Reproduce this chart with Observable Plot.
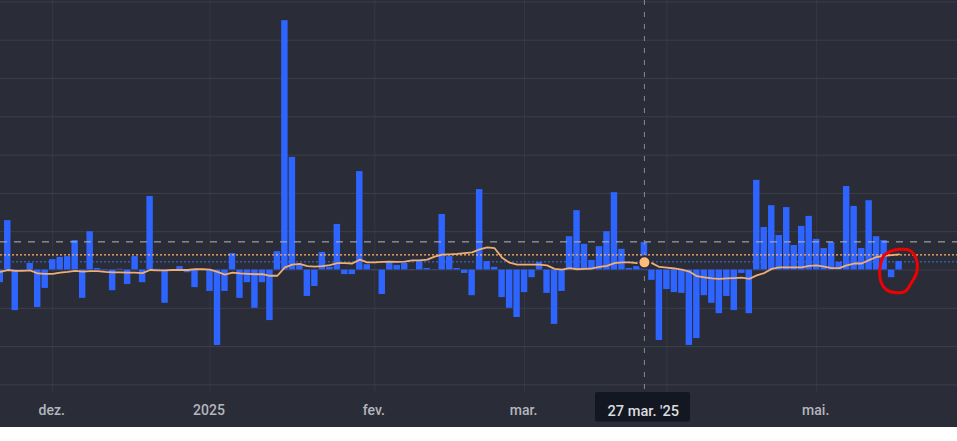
<!DOCTYPE html>
<html>
<head>
<meta charset="utf-8">
<script src="https://cdn.jsdelivr.net/npm/d3@7"></script>
<script src="https://cdn.jsdelivr.net/npm/@observablehq/plot@0.6"></script>
<style>
html,body{margin:0;padding:0;background:#fff}
svg{display:block}
</style>
</head>
<body>
<div id="chart"></div>
<script>
const firstIndex = -7;
const barValues = [
 -0.33,1.29,-1.06,-0.03,0.17,-0.98,-0.48,
 0.27,0.33,0.35,0.77,-0.74,1.0,0.04,-0.02,-0.54,0.02,-0.38,0.35,-0.33,1.92,0.02,-0.87,0.01,0.09,-0.07,-0.46,0.01,
 -0.56,-1.97,-0.56,0.43,-0.74,-0.33,-1.0,-0.33,-1.32,0.48,6.51,2.94,0.12,-0.69,-0.43,0.46,0.07,1.19,-0.12,-0.12,2.57,0.14,
 -0.01,-0.64,0.2,0.12,0.17,0.01,0.22,0.04,0.01,1.45,0.35,0.04,-0.09,-0.67,2.1,0.22,0.07,-0.72,-1.0,-1.24,
 -0.59,-0.2,0.2,-0.61,-1.42,-0.56,0.87,1.55,0.67,0.25,0.61,1.0,2.02,0.54,0.04,0.09,0.72,-0.27,-1.84,
 -0.51,-0.59,-0.61,-1.97,-1.79,-0.67,-0.87,-1.14,-0.69,-1.06,-0.09,-1.14,2.34,1.11,1.68,0.9,1.63,0.64,1.14,1.4,
 0.8,0.56,0.72,0.2,2.18,1.66,0.56,1.81,0.87,0.77,-0.2,0.22
];
const lineValues = [
 -0.05,0,-0.02,-0.02,-0.01,-0.09,-0.10,
 -0.10,-0.07,-0.05,-0.02,-0.04,-0.03,-0.03,-0.05,-0.06,-0.06,-0.07,-0.07,-0.08,0,-0.01,-0.01,0,0,0,0.02,0.02,
 0.01,-0.05,-0.12,-0.07,-0.09,-0.10,-0.11,-0.11,-0.15,-0.15,0.07,0.14,0.16,0.10,0.09,0.10,0.13,0.18,0.18,0.17,0.27,0.20,
 0.20,0.21,0.22,0.21,0.22,0.25,0.25,0.27,0.35,0.40,0.41,0.42,0.44,0.46,0.54,0.59,0.57,0.32,0.19,0.14,
 0.14,0.14,0.14,0.12,0.03,0.01,0.05,0.02,0.03,0.04,0.08,0.11,0.18,0.20,0.20,0.18,0.20,0.18,0.08,
 0.06,0.04,0.01,-0.04,-0.16,-0.19,-0.22,-0.23,-0.22,-0.21,-0.20,-0.23,-0.14,-0.08,0.03,0.07,0.07,0.07,0.07,0.11,
 0.12,0.09,0.05,0.05,0.12,0.17,0.17,0.26,0.34,0.37,0.39,0.41
];
const gridValues = [-3,-2,-1,0,1,2,3,4,5,6,7];
const monthStarts = [0,21,43,63,82,102];
const tickIndex = [0,21,43,63,102];
const tickLabels = ["dez.","2025","fev.","mar.","mai."];
const refGrey = 0.735, refOrange = 0.396, refBlue = 0.213;
const hoverIndex = 79, hoverLabel = "27 mar. '25";
const circleX = [113.08,114.46,115.26,115.35,114.68,113.79,112.46,111.35,110.59,110.46,110.99,111.79];
const circleY = [0.54,0.51,0.30,-0.06,-0.32,-0.56,-0.59,-0.52,-0.32,0.07,0.38,0.48];

const bars = barValues.map((v,k)=>({i:firstIndex+k,v}));
const line = lineValues.map((v,k)=>({i:firstIndex+k,v}));
const circle = circleX.map((x,k)=>({x,y:circleY[k]}));
const hoverValue = lineValues[hoverIndex-firstIndex];
const bg = "#2a2d38", gridH = "#3c3f4a", gridV = "#363944", font = "Roboto, sans-serif";

const chart = Plot.plot({
  width:957, height:427,
  marginTop:0, marginRight:0, marginBottom:35, marginLeft:0,
  style:{background:bg, fontFamily:font, fontSize:"14px", overflow:"hidden"},
  x:{type:"linear", domain:[-6.97,120.8], axis:null},
  y:{type:"linear", domain:[-3.198,7.037], axis:null},
  marks:[
    Plot.ruleX(monthStarts,{stroke:gridV,strokeWidth:1}),
    Plot.ruleY(gridValues,{stroke:gridH,strokeWidth:1}),
    Plot.ruleY([refBlue],{stroke:"#3f6fe8",strokeWidth:1,strokeDasharray:"2 2"}),
    Plot.rectY(bars,{x1:d=>d.i-0.43,x2:d=>d.i+0.43,y1:0,y2:"v",fill:"#2e64ff"}),
    Plot.ruleY([refGrey],{stroke:"#b5b6ba",strokeWidth:1,strokeDasharray:"7 7"}),
    Plot.ruleY([refOrange],{stroke:"#ffb468",strokeWidth:1.2,strokeDasharray:"2 2"}),
    Plot.ruleX([hoverIndex],{stroke:"#878a94",strokeWidth:1,strokeDasharray:"5 7"}),
    Plot.line(line,{x:"i",y:"v",stroke:"#f0ae74",strokeWidth:1.8,curve:"linear"}),
    Plot.dot([{x:hoverIndex,y:hoverValue}],{x:"x",y:"y",r:6,fill:"#ffba78",stroke:bg,strokeWidth:2}),
    Plot.line(circle,{x:"x",y:"y",stroke:"#f00000",strokeWidth:3,curve:"catmull-rom-closed"}),
    Plot.axisX({ticks:tickIndex,tickFormat:d=>tickLabels[tickIndex.indexOf(d)],tickSize:0,tickPadding:13,anchor:"bottom",label:null,fill:"#b4b6bd",fontWeight:500,fontSize:14,dx:-1}),
    Plot.rect([{}],{x1:()=>72.47,x2:()=>85.15,y1:()=>-3.2,y2:()=>-3.97,fill:"#131722",rx:2,clip:false}),
    Plot.text([hoverLabel],{x:()=>hoverIndex-0.15,y:()=>-3.68,text:d=>d,fill:"#dbdcdf",fontWeight:500,fontSize:14.6,textAnchor:"middle",lineAnchor:"middle"})
  ]
});
document.getElementById("chart").append(chart);
</script>
</body>
</html>
